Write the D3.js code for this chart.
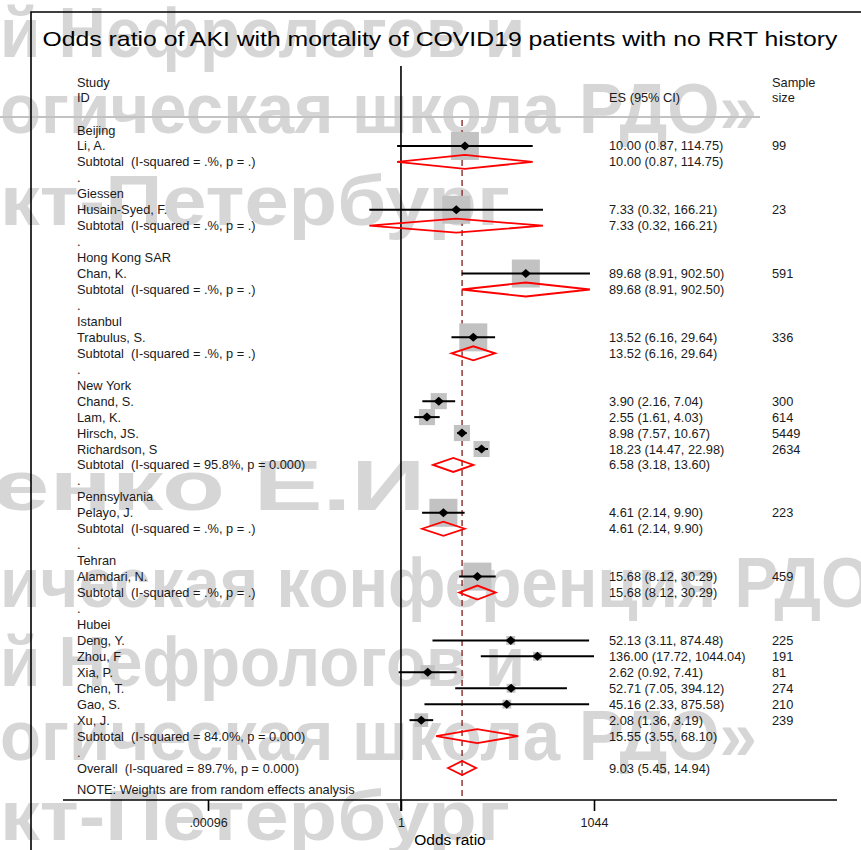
<!DOCTYPE html>
<html>
<head>
<meta charset="utf-8">
<script src="https://cdn.jsdelivr.net/npm/d3@7/dist/d3.min.js"></script>
<style>
  html, body { margin: 0; padding: 0; background: #fff; }
  svg { display: block; }
  text { font-family: "Liberation Sans", Arial, Helvetica, sans-serif; white-space: pre; }
</style>
</head>
<body>
<svg id="chart" width="861" height="850"></svg>
<script>
// Subgroups (locations) in plotting order
const groups = ["Beijing", "Giessen", "Hong Kong SAR", "Istanbul", "New York", "Pennsylvania", "Tehran", "Hubei"];

// Individual studies
const studyNames = ["Li, A.", "Husain-Syed, F.", "Chan, K.", "Trabulus, S.", "Chand, S.", "Lam, K.", "Hirsch, JS.", "Richardson, S",
  "Pelayo, J.", "Alamdari, N.", "Deng, Y.", "Zhou, F", "Xia, P.", "Chen, T.", "Gao, S.", "Xu, J."];
const studyGroup = [0, 1, 2, 3, 4, 4, 4, 4, 5, 6, 7, 7, 7, 7, 7, 7];
const studyES = [10.00, 7.33, 89.68, 13.52, 3.90, 2.55, 8.98, 18.23, 4.61, 15.68, 52.13, 136.00, 2.62, 52.71, 45.16, 2.08];
const studyLo = [0.87, 0.32, 8.91, 6.16, 2.16, 1.61, 7.57, 14.47, 2.14, 8.12, 3.11, 17.72, 0.92, 7.05, 2.33, 1.36];
const studyHi = [114.75, 166.21, 902.50, 29.64, 7.04, 4.03, 10.67, 22.98, 9.90, 30.29, 874.48, 1044.04, 7.41, 394.12, 875.58, 3.19];
const sampleSize = [99, 23, 591, 336, 300, 614, 5449, 2634, 223, 459, 225, 191, 81, 274, 210, 239];
// relative weight within each subgroup (sets the grey box area)
const boxWeight = [100, 100, 100, 100, 33, 33, 33, 33, 100, 100, 10, 10, 26, 10, 10, 24];

// Subgroup pooled estimates
const subES = [10.00, 7.33, 89.68, 13.52, 6.58, 4.61, 15.68, 15.55];
const subLo = [0.87, 0.32, 8.91, 6.16, 3.18, 2.14, 8.12, 3.55];
const subHi = [114.75, 166.21, 902.50, 29.64, 13.60, 9.90, 30.29, 68.10];
const subI2 = [".", ".", ".", ".", "95.8", ".", ".", "84.0"];
const subP = [".", ".", ".", ".", "0.000", ".", ".", "0.000"];

// Overall pooled estimate
const overallES = 9.03, overallLo = 5.45, overallHi = 14.94, overallI2 = "89.7", overallP = "0.000";

// Axis ticks
const tickValues = [0.00096, 1, 1044];
const tickLabels = [".00096", "1", "1044"];

const title = "Odds ratio of AKI with mortality of COVID19 patients with no RRT history";

// Faint background lettering
const wmLines = [
  { t: "й Нефрологов и", y: 57, w: 525 },
  { t: "огическая школа РДО»", y: 133, w: 757 },
  { t: "кт-Петербург", y: 225, w: 510 },
  { t: "енко Е.И.", y: 510, w: 462, x: -8 },
  { t: "ическая конференция РДО", y: 607, w: 872 },
  { t: "й Нефрологов и", y: 686, w: 525 },
  { t: "огическая школа РДО»", y: 760, w: 757 },
  { t: "кт-Петербург", y: 840, w: 510 }
];

const svg = d3.select("#chart");
const fmt = d3.format(".2f");

// ---------- build the row list ----------
const rows = [];
groups.forEach((g, gi) => {
  rows.push({ type: "group", label: g });
  studyNames.forEach((s, si) => {
    if (studyGroup[si] === gi) rows.push({ type: "study", i: si });
  });
  rows.push({ type: "sub", i: gi });
  rows.push({ type: "dot" });
});
rows.push({ type: "overall" });

const y = d3.scaleLinear().domain([0, rows.length - 1]).range([130, 768]);
const x = d3.scaleLog().domain([tickValues[0], tickValues[2]]).range([208, 594]);
const clampX = v => x(Math.max(tickValues[0], Math.min(tickValues[2], v)));
const boxSize = d3.scaleSqrt().domain([0, 100]).range([0, 28]);

const axisY = 800;
const xLabel = 77, xES = 609, xN = 772;
const textColor = "#1a1a1a";
const fs = 12.8;

// ---------- background lettering ----------
const wm = svg.append("g").attr("fill", "#d6d6d6");
wmLines.forEach(l => {
  wm.append("text")
    .attr("x", l.x || 0).attr("y", l.y)
    .attr("font-size", 70).attr("font-weight", "bold")
    .attr("textLength", l.w).attr("lengthAdjust", "spacingAndGlyphs")
    .text(l.t);
});
svg.append("line").attr("x1", 0).attr("x2", 760).attr("y1", 117).attr("y2", 117)
  .attr("stroke", "#c2c2c2").attr("stroke-width", 2);

// ---------- frame ----------
svg.append("path").attr("d", "M31,850 V12 H861").attr("fill", "none")
  .attr("stroke", "#000").attr("stroke-width", 1.6);

// ---------- title ----------
svg.append("text").attr("x", 440).attr("y", 46).attr("text-anchor", "middle")
  .attr("font-size", 21).attr("fill", "#000")
  .attr("textLength", 795).attr("lengthAdjust", "spacingAndGlyphs")
  .text(title);

// ---------- column headers ----------
const hdr = svg.append("g").attr("font-size", fs).attr("fill", textColor);
hdr.append("text").attr("x", xLabel).attr("y", 87).text("Study");
hdr.append("text").attr("x", xLabel).attr("y", 102).text("ID");
hdr.append("text").attr("x", xES).attr("y", 102).text("ES (95% CI)");
hdr.append("text").attr("x", xN).attr("y", 87).text("Sample");
hdr.append("text").attr("x", xN).attr("y", 102).text("size");

// ---------- reference lines ----------
svg.append("line").attr("x1", x(1)).attr("x2", x(1)).attr("y1", 66).attr("y2", axisY + 11)
  .attr("stroke", "#000").attr("stroke-width", 1.6);
svg.append("line").attr("x1", x(overallES)).attr("x2", x(overallES)).attr("y1", 120).attr("y2", axisY)
  .attr("stroke", "#8b2b2b").attr("stroke-width", 1.4).attr("stroke-dasharray", "6,4");

// ---------- rows ----------
const plot = svg.append("g");
const labels = svg.append("g").attr("font-size", fs).attr("fill", textColor);

function diamond(lo, es, hi, yc, h) {
  return `M${clampX(lo)},${yc} L${x(es)},${yc - h} L${clampX(hi)},${yc} L${x(es)},${yc + h} Z`;
}

rows.forEach((r, ri) => {
  const yc = y(ri);
  const tb = yc + 4.5;
  if (r.type === "group") {
    labels.append("text").attr("x", xLabel).attr("y", tb).text(r.label);
  } else if (r.type === "dot") {
    labels.append("text").attr("x", xLabel).attr("y", tb).text(".");
  } else if (r.type === "study") {
    const i = r.i;
    const s = boxSize(boxWeight[i]);
    plot.append("rect").attr("x", x(studyES[i]) - s / 2).attr("y", yc - s / 2)
      .attr("width", s).attr("height", s).attr("fill", "#c2c2c2");
    plot.append("line").attr("x1", clampX(studyLo[i])).attr("x2", clampX(studyHi[i]))
      .attr("y1", yc).attr("y2", yc).attr("stroke", "#000").attr("stroke-width", 2);
    plot.append("path").attr("d", diamond(studyES[i] / 1.2, studyES[i], studyES[i] * 1.2, yc, 4.5))
      .attr("fill", "#000");
    labels.append("text").attr("x", xLabel).attr("y", tb).text(studyNames[i]);
    labels.append("text").attr("x", xES).attr("y", tb)
      .text(`${fmt(studyES[i])} (${fmt(studyLo[i])}, ${fmt(studyHi[i])})`);
    labels.append("text").attr("x", xN).attr("y", tb).text(sampleSize[i]);
  } else if (r.type === "sub") {
    const i = r.i;
    plot.append("path").attr("d", diamond(subLo[i], subES[i], subHi[i], yc, 7))
      .attr("fill", "none").attr("stroke", "#ff0000").attr("stroke-width", 1.8);
    labels.append("text").attr("x", xLabel).attr("y", tb)
      .text(`Subtotal  (I-squared = ${subI2[i]}%, p = ${subP[i]})`);
    labels.append("text").attr("x", xES).attr("y", tb)
      .text(`${fmt(subES[i])} (${fmt(subLo[i])}, ${fmt(subHi[i])})`);
  } else if (r.type === "overall") {
    plot.append("path").attr("d", diamond(overallLo, overallES, overallHi, yc, 7))
      .attr("fill", "none").attr("stroke", "#ff0000").attr("stroke-width", 1.8);
    labels.append("text").attr("x", xLabel).attr("y", tb)
      .text(`Overall  (I-squared = ${overallI2}%, p = ${overallP})`);
    labels.append("text").attr("x", xES).attr("y", tb)
      .text(`${fmt(overallES)} (${fmt(overallLo)}, ${fmt(overallHi)})`);
  }
});

labels.append("text").attr("x", xLabel).attr("y", 794)
  .text("NOTE: Weights are from random effects analysis");

// ---------- x axis ----------
svg.append("line").attr("x1", 63).attr("x2", 837).attr("y1", axisY).attr("y2", axisY)
  .attr("stroke", "#000").attr("stroke-width", 1.6);
const axis = d3.axisBottom(x).tickValues(tickValues)
  .tickFormat((d, i) => tickLabels[i]).tickSize(11).tickSizeOuter(0).tickPadding(7);
const ax = svg.append("g").attr("transform", `translate(0,${axisY})`).call(axis);
ax.select(".domain").remove();
ax.selectAll(".tick line").attr("stroke", "#000").attr("stroke-width", 1.6);
ax.selectAll(".tick text").attr("font-size", 12.5).attr("fill", textColor)
  .attr("font-family", "Liberation Sans, Arial, sans-serif");

svg.append("text").attr("x", 450).attr("y", 845).attr("text-anchor", "middle")
  .attr("font-size", 15.5).attr("fill", "#000").text("Odds ratio");
</script>
</body>
</html>
